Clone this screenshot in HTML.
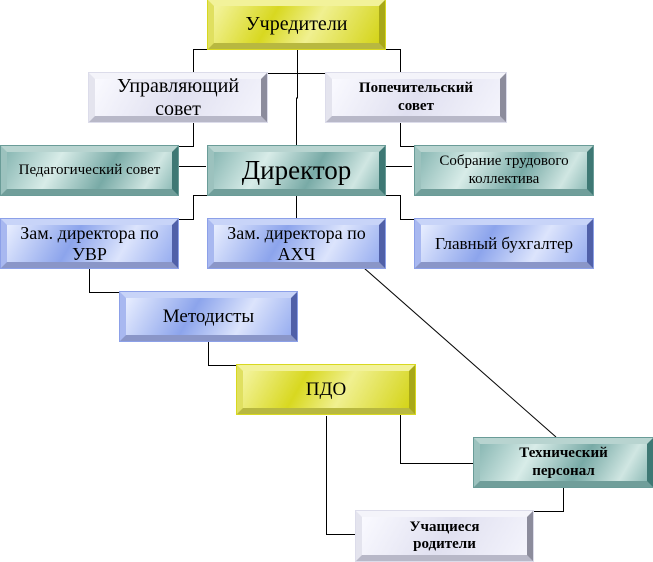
<!DOCTYPE html>
<html><head><meta charset="utf-8"><style>
html,body{margin:0;padding:0;background:#fff;}
body{width:653px;height:562px;position:relative;overflow:hidden;font-family:"Liberation Serif","Times New Roman","DejaVu Serif",serif;}
.b{position:absolute;box-sizing:border-box;border-style:solid;border-width:6px;}
.b .f{position:absolute;left:0;top:0;right:0;bottom:0;display:flex;align-items:center;justify-content:center;text-align:center;line-height:1.15;color:#000;font-family:"Liberation Serif","Times New Roman",serif;}
.y{border-color:#f2f29a #a8a818 #b8b840 #e0e060;outline:1px solid #d8d820;}
.y .f{background:linear-gradient(120deg,#f4f4a0 0%,#d8d820 35%,#f0f090 60%,#d4d418 100%);}
.l{border-color:#f4f4fa #8c8c9c #b8b8c8 #e4e4ee;outline:1px solid #dcdcea;}
.l .f{background:linear-gradient(120deg,#fafaff 0%,#e0e0f0 50%,#f4f4fc 100%);}
.t{border-color:#b8d4d0 #3e7874 #709e9a #9cc2be;outline:1px solid #6a9c98;}
.t .f{background:linear-gradient(120deg,#8ab8b4 0%,#d8ece8 30%,#78aaa6 60%,#d0e6e2 85%,#90bcb8 100%);}
.u{border-color:#c8d4f8 #5060a8 #8a96c8 #a8b8f0;outline:1px solid #8ca0e8;}
.u .f{background:linear-gradient(120deg,#e8eeff 0%,#8ca4ec 40%,#dce4fc 70%,#98aef0 100%);}
svg{position:absolute;left:0;top:0;}
</style></head><body>
<svg width="653" height="562">
<g stroke="#000" stroke-width="1" fill="none" shape-rendering="crispEdges">
<polyline points="193.5,73 193.5,49.5 400.5,49.5 400.5,73"/>
<polyline points="297.5,49 297.5,98 296.5,98 296.5,146"/>
<line x1="268" y1="73.5" x2="326" y2="73.5"/>
<polyline points="193.5,122 193.5,146.5 178,146.5"/>
<polyline points="400.5,122 400.5,146.5 415,146.5"/>
<line x1="178" y1="166.5" x2="206" y2="166.5"/>
<line x1="386" y1="166.5" x2="412" y2="166.5"/>
<polyline points="178,219.5 193.5,219.5 193.5,195.5 400.5,195.5 400.5,219.5 415,219.5"/>
<line x1="296.5" y1="195" x2="296.5" y2="219"/>
<polyline points="89.5,268 89.5,292.5 120,292.5"/>
<polyline points="208.5,341 208.5,365.5 237,365.5"/>
<polyline points="326.5,416 326.5,534.5 356,534.5"/>
<polyline points="400.5,414 400.5,463.5 474,463.5"/>
<polyline points="563.5,487 563.5,511.5 533,511.5"/>
</g>
<line x1="364" y1="268" x2="556" y2="437" stroke="#000" stroke-width="1"/>
</svg>
<div class="b y" style="left:208px;top:0;width:177px;height:49px"><div class="f" style="font-size:20px">Учредители</div></div>
<div class="b l" style="left:89px;top:73px;width:178px;height:49px"><div class="f" style="font-size:20px">Управляющий<br>совет</div></div>
<div class="b l" style="left:326px;top:73px;width:180px;height:49px"><div class="f" style="font-size:15px;font-weight:bold">Попечительский<br>совет</div></div>
<div class="b t" style="left:1px;top:146px;width:177px;height:49px"><div class="f" style="font-size:15px">Педагогический совет</div></div>
<div class="b t" style="left:208px;top:146px;width:177px;height:49px"><div class="f" style="font-size:27px">Директор</div></div>
<div class="b t" style="left:415px;top:146px;width:178px;height:49px"><div class="f" style="font-size:15px">Собрание трудового<br>коллектива</div></div>
<div class="b u" style="left:1px;top:219px;width:177px;height:49px"><div class="f" style="font-size:18px">Зам. директора по<br>УВР</div></div>
<div class="b u" style="left:208px;top:219px;width:177px;height:49px"><div class="f" style="font-size:18px">Зам. директора по<br>АХЧ</div></div>
<div class="b u" style="left:415px;top:219px;width:178px;height:49px"><div class="f" style="font-size:17px">Главный бухгалтер</div></div>
<div class="b u" style="left:120px;top:292px;width:177px;height:49px"><div class="f" style="font-size:19px">Методисты</div></div>
<div class="b y" style="left:237px;top:365px;width:178px;height:49px"><div class="f" style="font-size:19px">ПДО</div></div>
<div class="b t" style="left:474px;top:438px;width:179px;height:49px"><div class="f" style="font-size:15px;font-weight:bold">Технический<br>персонал</div></div>
<div class="b l" style="left:356px;top:511px;width:177px;height:50px"><div class="f" style="font-size:15px;font-weight:bold">Учащиеся<br>родители</div></div>
</body></html>
